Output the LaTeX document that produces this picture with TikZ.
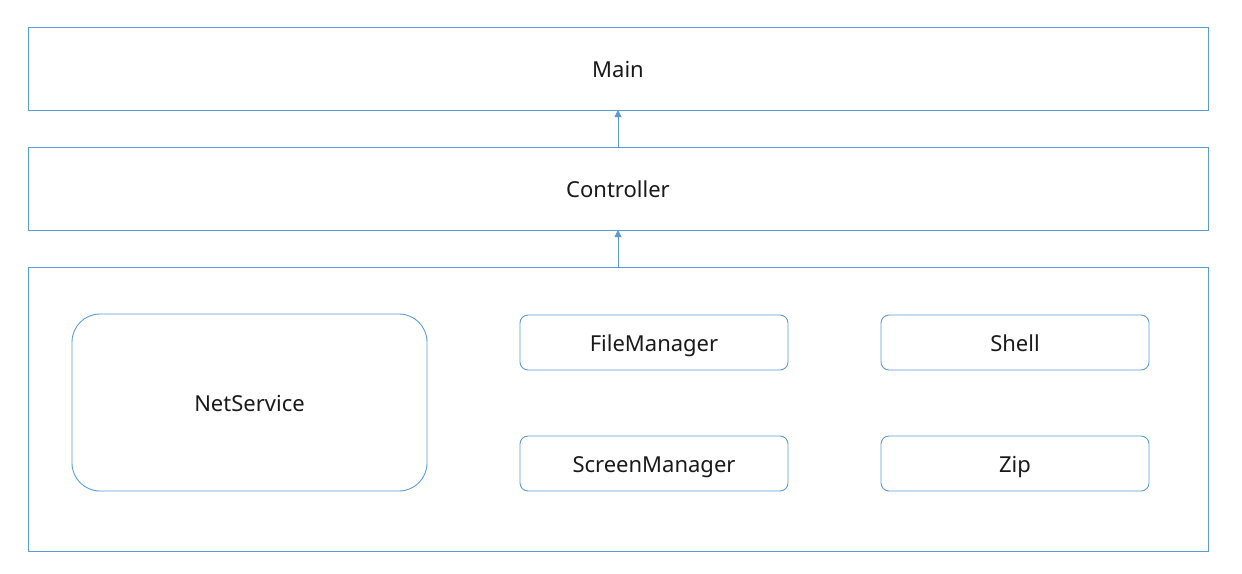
\documentclass[tikz,border=0pt]{standalone}
\usepackage{fontspec}
\setmainfont{Noto Sans}
\usetikzlibrary{arrows.meta}
\definecolor{lineblue}{HTML}{5B9BD5}
\begin{document}
\begin{tikzpicture}[x=1pt,y=-1pt,
  box/.style={draw=lineblue,line width=0.9pt},
  lbl/.style={font=\fontsize{22}{26}\selectfont,text=black!90,text height=16pt,text depth=5pt,yshift=-3pt},
  conn/.style={draw=lineblue,line width=0.9pt,-{Triangle[length=7pt,width=7pt]}}]
\useasboundingbox (0,0) rectangle (1242,573);
\draw[box] (28,27) rectangle (1208,110);
\node[lbl] (main) at (618,69) {Main};
\coordinate (mainB) at (618,110);
\draw[box] (28,147) rectangle (1208,230);
\node[lbl] (ctrl) at (618,189) {Controller};
\coordinate (ctrlT) at (618,147);
\coordinate (ctrlB) at (618,230);
\draw[box] (28,267) rectangle (1208,551);
\coordinate (contT) at (618,267);
\draw[box,rounded corners=28pt] (72,314) rectangle (427,491);
\node[lbl] (net) at (249.5,403) {NetService};
\draw[box,rounded corners=8pt] (520,315) rectangle (788,370);
\node[lbl] (fm) at (654,342.5) {FileManager};
\draw[box,rounded corners=8pt] (520,436) rectangle (788,491);
\node[lbl] (sm) at (654,463.5) {ScreenManager};
\draw[box,rounded corners=8pt] (881,315) rectangle (1149,370);
\node[lbl] (sh) at (1015,342.5) {Shell};
\draw[box,rounded corners=8pt] (881,436) rectangle (1149,491);
\node[lbl] (zip) at (1015,463.5) {Zip};
\draw[conn] (ctrlT) -- (mainB);
\draw[conn] (contT) -- (ctrlB);
\end{tikzpicture}
\end{document}
